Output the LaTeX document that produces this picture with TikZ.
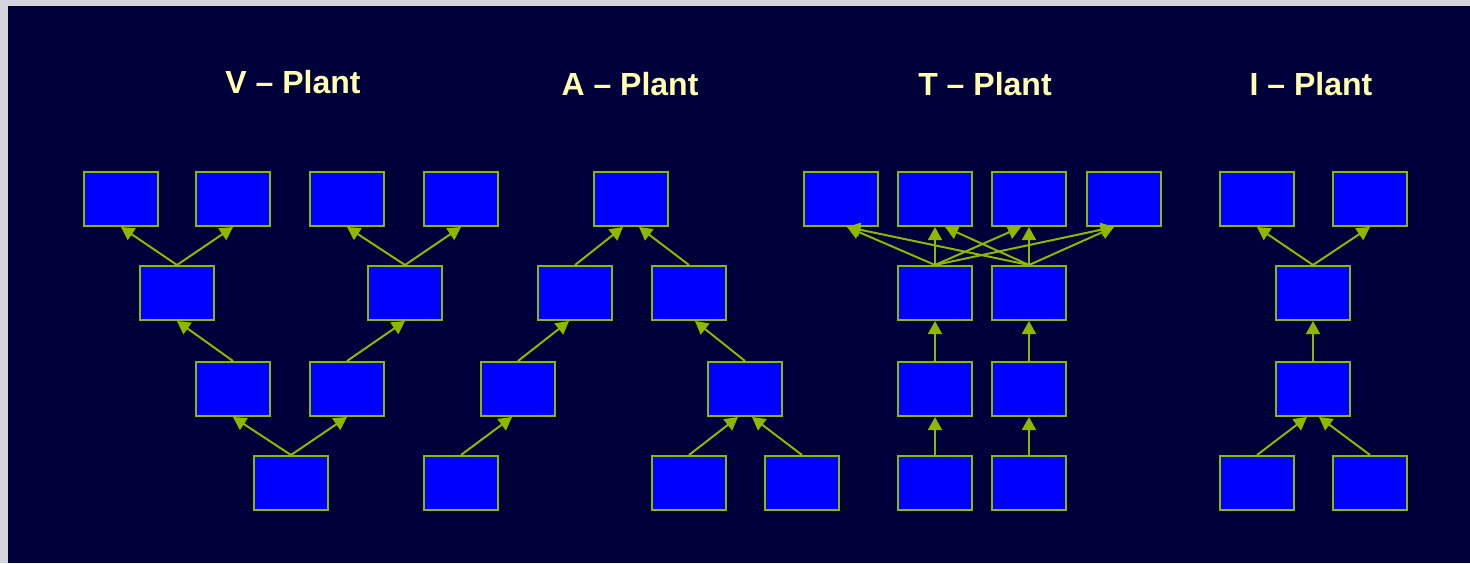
\documentclass[tikz,border=0pt]{standalone}
\usepackage{fontspec}
\setmainfont{Liberation Sans}
\usetikzlibrary{arrows.meta}
\definecolor{navy}{RGB}{0,0,58}
\definecolor{frame}{RGB}{212,212,222}
\definecolor{boxblue}{RGB}{0,0,255}
\definecolor{lime}{RGB}{140,184,0}
\definecolor{cream}{RGB}{255,255,175}

\begin{document}
\begin{tikzpicture}[x=1pt, y=-1pt,
    plantbox/.style ={rectangle, draw=lime, fill=boxblue, line width=2pt, inner sep=0pt, minimum width=74pt, minimum height=54pt},
    flow/.style ={draw=lime, line width=2pt, -{Triangle[length=13pt,width=14pt]}},
    title/.style ={text=cream, font=\fontsize{32}{38}\selectfont\bfseries, anchor=base}]
   \useasboundingbox (0,0) rectangle (1470,563);
   \fill[frame] (0,0) rectangle (1470,563);
   \fill[navy] (8,6) rectangle (1470,563);

   % titles
   \node[title] (tV) at (293,93) {V – Plant};
   \node[title] (tA) at (630,95) {A – Plant};
   \node[title] (tT) at (985,95) {T – Plant};
   \node[title] (tI) at (1311,95) {I – Plant};

   % V - Plant
   \node[plantbox] (V11) at (121,199) {};
   \node[plantbox] (V12) at (233,199) {};
   \node[plantbox] (V13) at (347,199) {};
   \node[plantbox] (V14) at (461,199) {};
   \node[plantbox] (V21) at (177,293) {};
   \node[plantbox] (V22) at (405,293) {};
   \node[plantbox] (V31) at (233,389) {};
   \node[plantbox] (V32) at (347,389) {};
   \node[plantbox] (V41) at (291,483) {};

   \draw[flow] (V21.north) to (V11.south);
   \draw[flow] (V21.north) to (V12.south);
   \draw[flow] (V22.north) to (V13.south);
   \draw[flow] (V22.north) to (V14.south);
   \draw[flow] (V31.north) to (V21.south);
   \draw[flow] (V32.north) to (V22.south);
   \draw[flow] (V41.north) to (V31.south);
   \draw[flow] (V41.north) to (V32.south);

   % A - Plant
   \node[plantbox] (A11) at (631,199) {};
   \node[plantbox] (A21) at (575,293) {};
   \node[plantbox] (A22) at (689,293) {};
   \node[plantbox] (A31) at (518,389) {};
   \node[plantbox] (A32) at (745,389) {};
   \node[plantbox] (A41) at (461,483) {};
   \node[plantbox] (A42) at (689,483) {};
   \node[plantbox] (A43) at (802,483) {};

   \draw[flow] (A21.north) to ([xshift=-8pt]A11.south);
   \draw[flow] (A22.north) to ([xshift=8pt]A11.south);
   \draw[flow] (A31.north) to ([xshift=-6pt]A21.south);
   \draw[flow] (A32.north) to ([xshift=6pt]A22.south);
   \draw[flow] (A41.north) to ([xshift=-6pt]A31.south);
   \draw[flow] (A42.north) to ([xshift=-7pt]A32.south);
   \draw[flow] (A43.north) to ([xshift=7pt]A32.south);

   % T - Plant
   \node[plantbox] (T11) at (841,199) {};
   \node[plantbox] (T12) at (935,199) {};
   \node[plantbox] (T13) at (1029,199) {};
   \node[plantbox] (T14) at (1124,199) {};
   \node[plantbox] (T21) at (935,293) {};
   \node[plantbox] (T22) at (1029,293) {};
   \node[plantbox] (T31) at (935,389) {};
   \node[plantbox] (T32) at (1029,389) {};
   \node[plantbox] (T41) at (935,483) {};
   \node[plantbox] (T42) at (1029,483) {};

   \draw[flow] (T21.north) to ([xshift=6pt]T11.south);
   \draw[flow] (T21.north) to (T12.south);
   \draw[flow] (T21.north) to ([xshift=-8pt]T13.south);
   \draw[flow] (T21.north) to ([xshift=-10pt]T14.south);
   \draw[flow] (T22.north) to ([xshift=6pt]T11.south);
   \draw[flow] (T22.north) to ([xshift=10pt]T12.south);
   \draw[flow] (T22.north) to (T13.south);
   \draw[flow] (T22.north) to ([xshift=-10pt]T14.south);
   \draw[flow] (T31.north) to (T21.south);
   \draw[flow] (T32.north) to (T22.south);
   \draw[flow] (T41.north) to (T31.south);
   \draw[flow] (T42.north) to (T32.south);

   % I - Plant
   \node[plantbox] (I11) at (1257,199) {};
   \node[plantbox] (I12) at (1370,199) {};
   \node[plantbox] (I21) at (1313,293) {};
   \node[plantbox] (I31) at (1313,389) {};
   \node[plantbox] (I41) at (1257,483) {};
   \node[plantbox] (I42) at (1370,483) {};

   \draw[flow] (I21.north) to (I11.south);
   \draw[flow] (I21.north) to (I12.south);
   \draw[flow] (I31.north) to (I21.south);
   \draw[flow] (I41.north) to ([xshift=-6pt]I31.south);
   \draw[flow] (I42.north) to ([xshift=6pt]I31.south);
 \end{tikzpicture}
\end{document}
